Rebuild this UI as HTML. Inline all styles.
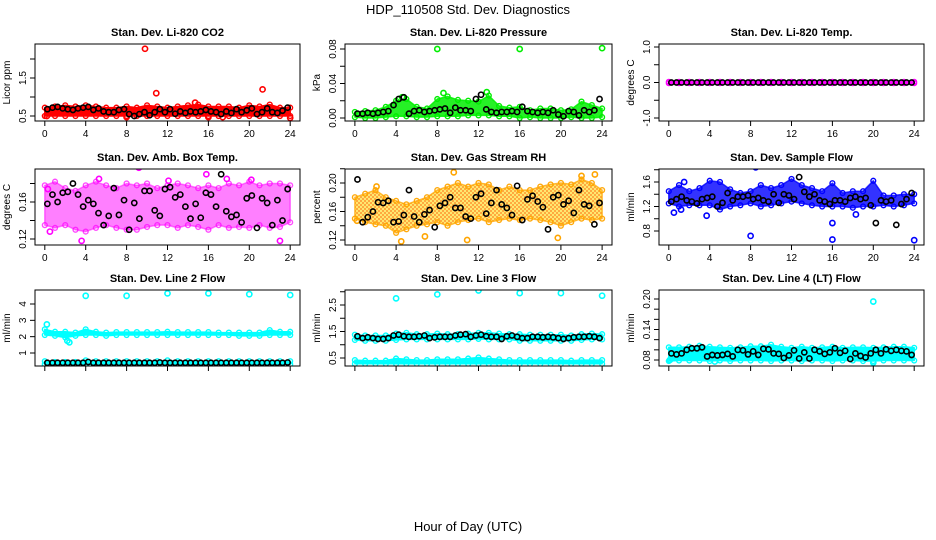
<!DOCTYPE html>
<html><head><meta charset="utf-8"><style>
body{margin:0;background:#fff;}
svg{display:block;font-family:"Liberation Sans",Arial,sans-serif;}
</style></head><body>
<svg id="c" width="936" height="540" viewBox="0 0 936 540">
<defs>
<pattern id="hatch" width="4" height="4" patternUnits="userSpaceOnUse"><rect width="4" height="4" fill="#ffe040"/><rect width="2" height="2" fill="#ff8c00"/><rect x="2" y="2" width="2" height="2" fill="#ff8c00"/></pattern>
</defs>
<text x="468" y="14" text-anchor="middle" font-size="13">HDP_110508  Std. Dev. Diagnostics</text>
<text x="468" y="531" text-anchor="middle" font-size="13">Hour of Day (UTC)</text>
</svg>
<script>
const hours=[0,1,2,3,4,5,6,7,8,9,10,11,12,13,14,15,16,17,18,19,20,21,22,23,24];
// P1 CO2
const co2Lo=[0.5,0.5,0.5,0.5,0.5,0.5,0.5,0.5,0.5,0.5,0.5,0.5,0.5,0.5,0.5,0.5,0.5,0.5,0.5,0.5,0.5,0.5,0.5,0.5,0.5];
const co2Hi=[0.72,0.75,0.78,0.75,0.78,0.75,0.72,0.72,0.75,0.72,0.78,0.75,0.72,0.75,0.78,0.8,0.75,0.75,0.75,0.72,0.78,0.75,0.8,0.72,0.72];
const co2OutX=[9.8,10.9,21.3,14.7,0.2,8,16,17.4,24];
const co2OutY=[2.27,1.1,1.2,0.85,0.5,0.47,0.47,0.47,0.45];
const co2Black=[0.68,0.72,0.74,0.7,0.68,0.66,0.7,0.72,0.74,0.66,0.7,0.62,0.6,0.6,0.66,0.68,0.55,0.5,0.55,0.6,0.52,0.6,0.68,0.6,0.68,0.56,0.62,0.58,0.62,0.6,0.62,0.66,0.62,0.6,0.55,0.62,0.58,0.68,0.6,0.65,0.7,0.55,0.6,0.7,0.6,0.58,0.64,0.72];
// P2 pressure
const prLo=[0.001,0.0,0.0,0.001,0.002,0.002,0.001,0.001,0.002,0.002,0.002,0.003,0.003,0.003,0.002,0.002,0.0,0.001,0.0,0.0,0.0,0.001,0.0,0.0,0.001];
const prHi=[0.007,0.008,0.009,0.013,0.02,0.022,0.013,0.011,0.022,0.025,0.021,0.02,0.019,0.026,0.014,0.012,0.013,0.009,0.011,0.011,0.009,0.01,0.019,0.015,0.011];
const prOutX=[8,16,24,8.6,12.8,4.6];
const prOutY=[0.08,0.08,0.081,0.029,0.03,0.024];
const prBlack=[0.005,0.005,0.006,0.005,0.006,0.007,0.008,0.015,0.022,0.024,0.005,0.008,0.009,0.007,0.008,0.009,0.01,0.011,0.006,0.012,0.009,0.009,0.008,0.022,0.027,0.01,0.007,0.006,0.007,0.007,0.008,0.007,0.013,0.008,0.007,0.006,0.007,0.006,0.009,0.004,0.002,0.008,0.007,0.003,0.009,0.007,0.009,0.022];
// P3 Li-820 temp
const ltLo=[-0.02,-0.02,-0.02,-0.02,-0.02,-0.02,-0.02,-0.02,-0.02,-0.02,-0.02,-0.02,-0.02,-0.02,-0.02,-0.02,-0.02,-0.02,-0.02,-0.02,-0.02,-0.02,-0.02,-0.02,-0.02];
const ltHi=[0.02,0.02,0.02,0.02,0.02,0.02,0.02,0.02,0.02,0.02,0.02,0.02,0.02,0.02,0.02,0.02,0.02,0.02,0.02,0.02,0.02,0.02,0.02,0.02,0.02];
const ltBlack=[0,0,0,0,0,0,0,0,0,0,0,0,0,0,0,0,0,0,0,0,0,0,0,0,0,0,0,0,0,0,0,0,0,0,0,0,0,0,0,0,0,0,0,0,0,0,0,0];
// P4 amb box temp
const abLo=[0.135,0.132,0.135,0.13,0.128,0.132,0.135,0.132,0.13,0.13,0.133,0.135,0.135,0.132,0.135,0.133,0.13,0.135,0.132,0.133,0.132,0.135,0.132,0.133,0.138];
const abHi=[0.178,0.182,0.175,0.172,0.178,0.182,0.178,0.175,0.18,0.178,0.18,0.175,0.178,0.18,0.178,0.175,0.178,0.175,0.18,0.178,0.182,0.178,0.18,0.18,0.178];
const abOutX=[3.6,0.5,23,9.2,15.8,5.3,17.8,12.1,20.2,0.3];
const abOutY=[0.118,0.128,0.118,0.197,0.19,0.185,0.185,0.183,0.184,0.174];
const abBlack=[0.158,0.168,0.16,0.17,0.171,0.18,0.168,0.155,0.162,0.158,0.148,0.135,0.145,0.175,0.146,0.162,0.130,0.159,0.142,0.172,0.172,0.151,0.145,0.174,0.176,0.165,0.168,0.155,0.142,0.158,0.143,0.17,0.168,0.155,0.19,0.15,0.144,0.146,0.138,0.164,0.167,0.132,0.164,0.159,0.135,0.162,0.14,0.174];
// P5 gas stream RH
const rhLo=[0.15,0.145,0.142,0.14,0.13,0.135,0.14,0.142,0.145,0.14,0.145,0.148,0.15,0.145,0.148,0.15,0.148,0.15,0.148,0.145,0.14,0.145,0.15,0.148,0.15];
const rhHi=[0.18,0.185,0.19,0.18,0.175,0.17,0.175,0.18,0.19,0.195,0.2,0.195,0.2,0.198,0.19,0.195,0.19,0.19,0.195,0.198,0.2,0.198,0.205,0.2,0.19];
const rhOutX=[9.6,4.5,10.9,19.7,22,23.3,0.2,2.1,6.8];
const rhOutY=[0.215,0.118,0.12,0.123,0.21,0.212,0.147,0.195,0.125];
const rhBlack=[0.205,0.145,0.152,0.16,0.173,0.172,0.175,0.145,0.146,0.155,0.19,0.153,0.145,0.156,0.162,0.138,0.168,0.172,0.18,0.165,0.165,0.153,0.15,0.18,0.185,0.157,0.172,0.19,0.17,0.165,0.155,0.196,0.148,0.177,0.182,0.174,0.166,0.135,0.18,0.183,0.17,0.175,0.158,0.19,0.17,0.168,0.142,0.172];
// P6 sample flow
const sfLo=[1.25,1.2,1.22,1.22,1.22,1.15,1.2,1.22,1.25,1.2,1.22,1.25,1.28,1.25,1.22,1.2,1.2,1.2,1.18,1.2,1.2,1.22,1.2,1.22,1.25];
const sfHi=[1.45,1.55,1.45,1.5,1.62,1.6,1.48,1.42,1.45,1.55,1.5,1.55,1.65,1.55,1.5,1.45,1.58,1.42,1.45,1.45,1.62,1.38,1.38,1.4,1.4];
const sfOutX=[8,16,24,16,8.5,1.5,0.5,3.7,18.3,1.2];
const sfOutY=[0.72,0.66,0.65,0.93,1.84,1.6,1.1,1.05,1.07,1.15];
const sfBlack=[1.28,1.32,1.36,1.3,1.28,1.25,1.32,1.34,1.36,1.2,1.26,1.42,1.3,1.36,1.36,1.38,1.32,1.34,1.3,1.28,1.4,1.26,1.4,1.38,1.32,1.68,1.44,1.36,1.4,1.3,1.28,1.24,1.3,1.3,1.28,1.34,1.36,1.32,1.34,1.22,0.93,1.3,1.28,1.3,0.9,1.24,1.32,1.42];
// P7 line 2 flow
const l2Lo=[2.1,2.05,1.95,2.05,2.1,2.1,2.05,2.1,2.1,2.1,2.1,2.1,2.1,2.1,2.1,2.1,2.1,2.1,2.1,2.05,2.05,2.05,2.1,2.1,2.1];
const l2Hi=[2.45,2.3,2.3,2.25,2.45,2.3,2.25,2.28,2.28,2.28,2.28,2.28,2.3,2.28,2.28,2.28,2.28,2.25,2.25,2.25,2.25,2.25,2.4,2.3,2.3];
const l2bLo=[0.3,0.3,0.3,0.3,0.3,0.3,0.3,0.3,0.3,0.3,0.3,0.3,0.3,0.3,0.3,0.3,0.3,0.3,0.3,0.3,0.3,0.3,0.3,0.3,0.3];
const l2bHi=[0.5,0.45,0.45,0.45,0.55,0.5,0.5,0.5,0.5,0.5,0.5,0.5,0.55,0.5,0.5,0.5,0.5,0.5,0.5,0.5,0.5,0.5,0.5,0.5,0.5];
const l2OutX=[4,8,12,16,20,24,0.2,2.4,2.2];
const l2OutY=[4.5,4.5,4.65,4.65,4.6,4.55,2.75,1.65,1.75];
const l2Black=[0.4,0.4,0.4,0.4,0.4,0.4,0.4,0.4,0.45,0.4,0.4,0.4,0.4,0.4,0.4,0.4,0.4,0.4,0.4,0.4,0.4,0.4,0.42,0.4,0.4,0.4,0.4,0.4,0.4,0.4,0.4,0.4,0.4,0.4,0.4,0.4,0.4,0.4,0.4,0.4,0.4,0.4,0.4,0.4,0.4,0.4,0.4,0.42];
// P8 line 3 flow
const l3Lo=[1.18,1.15,1.15,1.15,1.18,1.2,1.2,1.2,1.2,1.2,1.2,1.2,1.22,1.2,1.2,1.2,1.15,1.15,1.15,1.15,1.15,1.15,1.18,1.2,1.2];
const l3Hi=[1.38,1.35,1.35,1.35,1.42,1.45,1.4,1.4,1.42,1.4,1.4,1.42,1.45,1.45,1.42,1.4,1.4,1.38,1.38,1.38,1.38,1.35,1.4,1.42,1.4];
const l3bLo=[0.28,0.28,0.28,0.28,0.28,0.28,0.28,0.28,0.28,0.28,0.28,0.28,0.28,0.28,0.28,0.28,0.28,0.28,0.28,0.28,0.28,0.28,0.28,0.28,0.28];
const l3bHi=[0.42,0.4,0.4,0.4,0.48,0.45,0.42,0.42,0.45,0.45,0.45,0.48,0.52,0.48,0.45,0.42,0.42,0.42,0.42,0.42,0.42,0.4,0.42,0.42,0.42];
const l3OutX=[4,8,12,16,20,24];
const l3OutY=[2.75,2.9,3.05,2.95,2.95,2.85];
const l3Black=[1.32,1.25,1.28,1.25,1.22,1.22,1.25,1.35,1.38,1.32,1.3,1.3,1.32,1.35,1.25,1.28,1.3,1.3,1.3,1.35,1.38,1.4,1.3,1.35,1.38,1.32,1.3,1.3,1.22,1.32,1.35,1.3,1.25,1.25,1.3,1.3,1.28,1.3,1.28,1.25,1.22,1.25,1.28,1.3,1.3,1.32,1.3,1.25];
// P9 line 4 flow
const l4Lo=[0.078,0.079,0.079,0.079,0.078,0.079,0.078,0.079,0.079,0.079,0.078,0.079,0.079,0.078,0.079,0.079,0.078,0.079,0.079,0.078,0.078,0.079,0.079,0.079,0.079];
const l4Hi=[0.105,0.105,0.106,0.108,0.106,0.105,0.104,0.105,0.107,0.107,0.11,0.106,0.104,0.106,0.104,0.105,0.106,0.104,0.105,0.105,0.104,0.105,0.106,0.106,0.104];
const l4OutX=[4,12,20,0.1,20,4.5];
const l4OutY=[0.225,0.224,0.195,0.08,0.075,0.077];
const l4Black=[0.093,0.091,0.093,0.1,0.103,0.103,0.105,0.087,0.09,0.089,0.09,0.092,0.087,0.1,0.099,0.091,0.097,0.09,0.102,0.101,0.093,0.092,0.084,0.089,0.099,0.083,0.095,0.083,0.1,0.097,0.092,0.095,0.103,0.094,0.098,0.082,0.093,0.088,0.085,0.093,0.1,0.093,0.101,0.098,0.1,0.098,0.097,0.09];
const halfHours=co2Black.map((_,i)=>(i+0.5)*0.5);

const svg=document.getElementById('c');
const NS='http://www.w3.org/2000/svg';
function mk(tag,attrs,parent){const e=document.createElementNS(NS,tag);for(const k in attrs)e.setAttribute(k,attrs[k]);(parent||svg).appendChild(e);return e;}
const colL=[35,345,659],colR=[300,612,924];
const rowT=[44,169,290],rowB=[121,245,366];
function panel(o){
  const g=mk('g',{});
  
  
  const L=colL[o.c],R=colR[o.c],T=rowT[o.r],B=rowB[o.r];
  const xs=h=>L+(R-L)*(h+0.96)/25.92;
  const ys=v=>o.pa+(v-o.va)*(o.pb-o.pa)/(o.vb-o.va);
  const clip='cl'+o.c+o.r;
  const cp=mk('clipPath',{id:clip},g);mk('rect',{x:L,y:T,width:R-L,height:B-T},cp);
  const dg=mk('g',{'clip-path':'url(#'+clip+')'},g);
  (o.bands||[]).forEach(b=>{
    let d='M'+hours.map((h,i)=>xs(h).toFixed(1)+','+ys(b.hi[i]).toFixed(1)).join('L');
    d+='L'+hours.slice().reverse().map((h,j)=>{const i=hours.length-1-j;return xs(h).toFixed(1)+','+ys(b.lo[i]).toFixed(1);}).join('L')+'Z';
    const op=b.op||1;
    const p=mk('path',{d:d,fill:b.fill||o.col,'fill-opacity':op,stroke:o.col,'stroke-width':1.5,'stroke-opacity':op,'stroke-linejoin':'round'},dg);
    
    
    hours.forEach((h,i)=>{[b.lo[i],b.hi[i]].forEach(v=>{
      const ci=mk('circle',{cx:xs(h),cy:ys(v),r:2.4,fill:'none',stroke:o.col,'stroke-width':1.4,'stroke-opacity':Math.min(1,op+0.2)},dg);
      
      
    });});
  });
  (o.outX||[]).forEach((x,i)=>{
    const ci=mk('circle',{cx:xs(x),cy:ys(o.outY[i]),r:2.6,fill:'none',stroke:o.col,'stroke-width':1.6},dg);
    
    
  });
  o.black.forEach((v,i)=>{
    const ci=mk('circle',{cx:xs(halfHours[i]),cy:ys(v),r:2.6,fill:'none',stroke:'#000','stroke-width':1.6},dg);
    
    
  });
  const box=mk('rect',{x:L,y:T,width:R-L,height:B-T,fill:'none',stroke:'#000','stroke-width':1},g);
  
  
  const t=mk('text',{x:(L+R)/2,y:T-8,'text-anchor':'middle','font-size':11,'font-weight':'bold'},g);t.textContent=o.title;
  
  
  [0,4,8,12,16,20,24].forEach(h=>{
    mk('line',{x1:xs(h),x2:xs(h),y1:B,y2:B+5,stroke:'#000'},g);
    if(o.r<2){const tx=mk('text',{x:xs(h),y:B+16,'text-anchor':'middle','font-size':10},g);tx.textContent=h;
    
    }
  });
  o.ticks.forEach(v=>{const y=ys(v);if(y<T-2)return;mk('line',{x1:L-5,x2:L,y1:y,y2:y,stroke:'#000'},g);});
  o.labels.forEach((s,i)=>{const y=ys(o.labelV[i]);const tx=mk('text',{x:L-9,y:y,'text-anchor':'middle','font-size':10,transform:'rotate(-90 '+(L-9)+' '+y+')'},g);tx.textContent=s;
    
    });
  const yt=mk('text',{x:L-25,y:(T+B)/2,'text-anchor':'middle','font-size':10,transform:'rotate(-90 '+(L-25)+' '+(T+B)/2+')'},g);yt.textContent=o.ylab;
  
  
}
panel({name:'panel-co2',c:0,r:0,title:'Stan. Dev. Li-820 CO2',ylab:'Licor ppm',col:'#ff0000',va:0.5,pa:116,vb:1.5,pb:78,ticks:[0.5,1,1.5,2],labels:['0.5','1.5'],labelV:[0.5,1.5],bands:[{lo:co2Lo,hi:co2Hi}],outX:co2OutX,outY:co2OutY,black:co2Black});
panel({name:'panel-pressure',c:1,r:0,title:'Stan. Dev. Li-820 Pressure',ylab:'kPa',col:'#00ee00',va:0,pa:118,vb:0.08,pb:49,ticks:[0,0.02,0.04,0.06,0.08],labels:['0.00','0.04','0.08'],labelV:[0,0.04,0.08],bands:[{lo:prLo,hi:prHi,op:0.85}],outX:prOutX,outY:prOutY,black:prBlack});
panel({name:'panel-li820-temp',c:2,r:0,title:'Stan. Dev. Li-820 Temp.',ylab:'degrees C',col:'#ff00ff',va:-1,pa:118,vb:1,pb:47,ticks:[-1,-0.5,0,0.5,1],labels:['-1.0','0.0','1.0'],labelV:[-1,0,1],bands:[{lo:ltLo,hi:ltHi}],black:ltBlack});
panel({name:'panel-amb-box-temp',c:0,r:1,title:'Stan. Dev. Amb. Box Temp.',ylab:'degrees C',col:'#ff00ff',va:0.12,pa:239,vb:0.16,pb:202,ticks:[0.12,0.14,0.16,0.18],labels:['0.12','0.16'],labelV:[0.12,0.16],bands:[{lo:abLo,hi:abHi,op:0.5}],outX:abOutX,outY:abOutY,black:abBlack});
panel({name:'panel-gas-stream-rh',c:1,r:1,title:'Stan. Dev. Gas Stream RH',ylab:'percent',col:'#ffa500',va:0.12,pa:240,vb:0.2,pb:183,ticks:[0.12,0.14,0.16,0.18,0.2,0.22],labels:['0.12','0.16','0.20'],labelV:[0.12,0.16,0.2],bands:[{lo:rhLo,hi:rhHi,fill:'url(#hatch)',op:0.75}],outX:rhOutX,outY:rhOutY,black:rhBlack});
panel({name:'panel-sample-flow',c:2,r:1,title:'Stan. Dev. Sample Flow',ylab:'ml/min',col:'#0000ff',va:0.8,pa:231,vb:1.6,pb:182,ticks:[0.8,1,1.2,1.4,1.6,1.8],labels:['0.8','1.2','1.6'],labelV:[0.8,1.2,1.6],bands:[{lo:sfLo,hi:sfHi,op:0.8}],outX:sfOutX,outY:sfOutY,black:sfBlack});
panel({name:'panel-line2-flow',c:0,r:2,title:'Stan. Dev. Line 2 Flow',ylab:'ml/min',col:'#00ffff',va:1,pa:353,vb:4,pb:304,ticks:[1,2,3,4],labels:['1','2','3','4'],labelV:[1,2,3,4],bands:[{lo:l2Lo,hi:l2Hi},{lo:l2bLo,hi:l2bHi}],outX:l2OutX,outY:l2OutY,black:l2Black});
panel({name:'panel-line3-flow',c:1,r:2,title:'Stan. Dev. Line 3 Flow',ylab:'ml/min',col:'#00ffff',va:0.5,pa:358,vb:2.5,pb:305,ticks:[0.5,1,1.5,2,2.5,3],labels:['0.5','1.5','2.5'],labelV:[0.5,1.5,2.5],bands:[{lo:l3Lo,hi:l3Hi},{lo:l3bLo,hi:l3bHi}],outX:l3OutX,outY:l3OutY,black:l3Black});
panel({name:'panel-line4-flow',c:2,r:2,title:'Stan. Dev. Line 4 (LT) Flow',ylab:'ml/min',col:'#00ffff',va:0.08,pa:360,vb:0.2,pb:299,ticks:[0.08,0.1,0.12,0.14,0.16,0.18,0.2],labels:['0.08','0.14','0.20'],labelV:[0.08,0.14,0.2],bands:[{lo:l4Lo,hi:l4Hi}],outX:l4OutX,outY:l4OutY,black:l4Black});
</script>
</body></html>
